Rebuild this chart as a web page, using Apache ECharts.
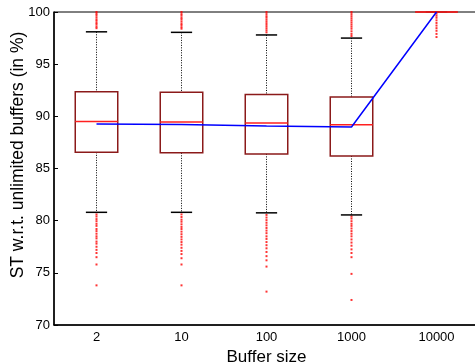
<!DOCTYPE html>
<html>
<head>
<meta charset="utf-8">
<script src="https://cdn.jsdelivr.net/npm/echarts@6/dist/echarts.min.js"></script>
<style>
  html, body { margin: 0; padding: 0; background: #fff; }
  #chart { width: 475px; height: 362px; }
</style>
</head>
<body>
<div id="chart"></div>
<script>
// buffer sizes on the x axis
const categories = ['2', '10', '100', '1000', '10000']
// box stats: [lower whisker, q1, median, q3, upper whisker]
const boxStats = [
  [80.8, 86.55, 89.5, 92.35, 98.1],
  [80.8, 86.5, 89.45, 92.3, 98.05],
  [80.75, 86.4, 89.35, 92.1, 97.8],
  [80.55, 86.2, 89.2, 91.85, 97.5],
  [100, 100, 100, 100, 100]
]
// blue line (mean per buffer size)
const meanValues = [89.27, 89.22, 89.08, 88.98, 100]
// outliers per buffer size
const outliers2 = [100, 99.85, 99.7, 99.5, 99.3, 99.15, 98.95, 98.8, 98.6, 98.45,
  80.6, 80.4, 80.15, 79.95, 79.7, 79.5, 79.2, 79.0, 78.75, 78.5, 78.3, 78.0, 77.8, 77.5, 77.2, 76.9, 76.5, 75.8, 73.8]
const outliers10 = [100, 99.8, 99.65, 99.45, 99.3, 99.1, 98.9, 98.75, 98.55, 98.4,
  80.6, 80.35, 80.1, 79.9, 79.65, 79.4, 79.2, 78.95, 78.7, 78.45, 78.2, 77.95, 77.7, 77.4, 77.1, 76.8, 76.4, 75.8, 73.8]
const outliers100 = [100, 99.8, 99.6, 99.45, 99.25, 99.05, 98.85, 98.65, 98.45, 98.25, 98.05,
  80.55, 80.3, 80.05, 79.8, 79.55, 79.3, 79.05, 78.8, 78.5, 78.25, 77.95, 77.65, 77.35, 77.0, 76.6, 76.2, 75.6, 73.2]
const outliers1000 = [100, 99.8, 99.6, 99.4, 99.2, 99.0, 98.8, 98.6, 98.4, 98.15, 97.9, 97.7,
  80.4, 80.2, 79.95, 79.7, 79.5, 79.25, 79.0, 78.75, 78.5, 78.2, 77.9, 77.6, 77.25, 76.9, 76.5, 74.9, 72.4]
const outliers10000 = [99.85, 99.65, 99.45, 99.2, 98.95, 98.7, 98.45, 98.2, 97.9, 97.6]

const outlierLists = [outliers2, outliers10, outliers100, outliers1000, outliers10000]
const outlierData = []
outlierLists.forEach((list, i) => {
  list.forEach(v => outlierData.push([i, v]))
})
const boxData = boxStats.map((s, i) => [i].concat(s))

const font = 'Liberation Sans, Arial, Helvetica, sans-serif'
const chart = echarts.init(document.getElementById('chart'))

function renderBox(params, api) {
  const idx = api.value(0)
  const low = api.coord([idx, api.value(1)])
  const q1 = api.coord([idx, api.value(2)])
  const med = api.coord([idx, api.value(3)])
  const q3 = api.coord([idx, api.value(4)])
  const high = api.coord([idx, api.value(5)])
  const band = api.size([1, 0])[0]
  const bw = band * 0.5
  const cw = band * 0.25
  const x = low[0]
  const children = []
  const dotted = { stroke: '#000', lineWidth: 1, lineDash: [1, 1.5], fill: null }
  if (q3[1] - high[1] > 0.5) {
    children.push({ type: 'line', shape: { x1: x, y1: high[1], x2: x, y2: q3[1] }, style: dotted })
  }
  if (low[1] - q1[1] > 0.5) {
    children.push({ type: 'line', shape: { x1: x, y1: q1[1], x2: x, y2: low[1] }, style: dotted })
  }
  children.push({ type: 'line', shape: { x1: x - cw / 2, y1: high[1], x2: x + cw / 2, y2: high[1] }, style: { stroke: '#000', lineWidth: 1.5 } })
  children.push({ type: 'line', shape: { x1: x - cw / 2, y1: low[1], x2: x + cw / 2, y2: low[1] }, style: { stroke: '#000', lineWidth: 1.5 } })
  children.push({ type: 'rect', shape: { x: x - bw / 2, y: q3[1], width: bw, height: q1[1] - q3[1] }, style: { stroke: '#8b1a1a', lineWidth: 1.5, fill: null } })
  children.push({ type: 'line', shape: { x1: x - bw / 2, y1: med[1], x2: x + bw / 2, y2: med[1] }, style: { stroke: '#ff2020', lineWidth: 1.5 } })
  return { type: 'group', children: children }
}

const option = {
  animation: false,
  grid: {
    left: 54, right: -4, top: 12, bottom: 37,
    outerBoundsMode: 'none',
    show: true, borderColor: '#000', borderWidth: 1
  },
  // y axis title, placed like the original (a bit above the plot centre)
  graphic: [{
    type: 'text',
    x: 18,
    y: 155,
    rotation: Math.PI / 2,
    style: {
      text: 'ST w.r.t. unlimited buffers (in %)',
      fill: '#000',
      font: '17.5px ' + font,
      align: 'center',
      verticalAlign: 'middle'
    }
  }],
  xAxis: {
    type: 'category',
    data: categories,
    name: 'Buffer size',
    nameLocation: 'middle',
    nameGap: 17,
    nameTextStyle: { color: '#000', fontSize: 17, fontFamily: font },
    axisLine: { lineStyle: { color: '#000', width: 1.5 } },
    axisTick: { inside: true, alignWithLabel: true, length: 4, lineStyle: { color: '#000' } },
    axisLabel: { color: '#000', fontSize: 13, fontFamily: font, margin: 6 },
    splitLine: { show: false }
  },
  yAxis: [{
    type: 'value',
    min: 70,
    max: 100,
    interval: 5,
    axisLine: { show: true, lineStyle: { color: '#000', width: 1.5 } },
    axisTick: { show: true, inside: true, length: 4, lineStyle: { color: '#000' } },
    axisLabel: { color: '#000', fontSize: 13, fontFamily: font, margin: 4 },
    splitLine: { show: false }
  }, {
    type: 'value',
    position: 'right',
    min: 70,
    max: 100,
    interval: 5,
    axisLine: { show: true, lineStyle: { color: '#000' } },
    axisTick: { show: true, inside: true, length: 4, lineStyle: { color: '#000' } },
    axisLabel: { show: false },
    splitLine: { show: false }
  }],
  series: [
    {
      type: 'scatter',
      data: outlierData,
      symbol: 'rect',
      symbolSize: 2,
      itemStyle: { color: '#ff0000' },
      z: 2
    },
    {
      type: 'custom',
      data: boxData,
      renderItem: renderBox,
      encode: { x: 0, y: [1, 2, 3, 4, 5] },
      z: 3
    },
    {
      type: 'line',
      data: meanValues,
      symbol: 'none',
      lineStyle: { color: '#0000ff', width: 1.5 },
      z: 4
    }
  ]
}
chart.setOption(option)
</script>
</body>
</html>
